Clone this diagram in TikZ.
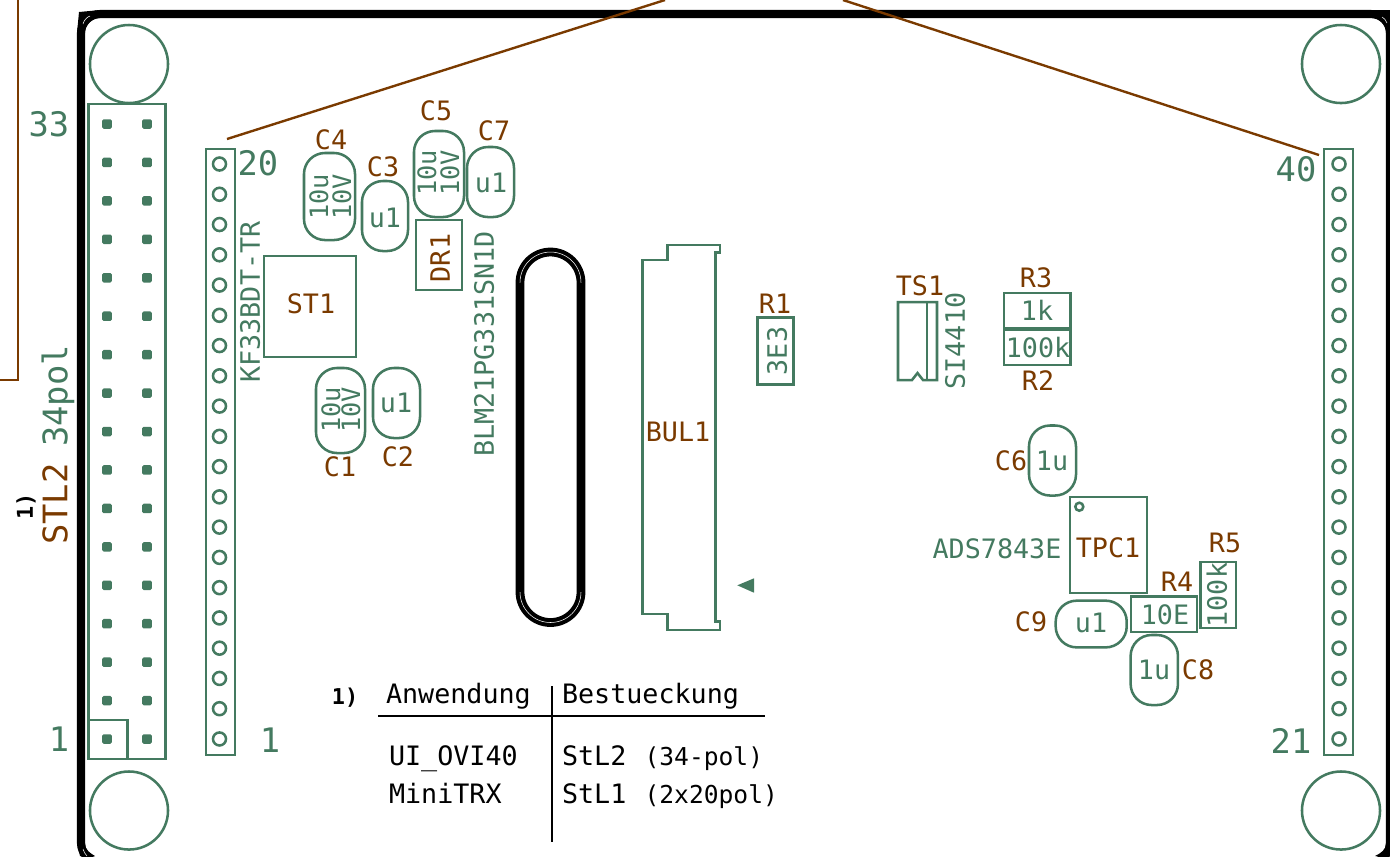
\documentclass[tikz,border=0pt]{standalone}
\usepackage{xcolor}
\usepackage{fontspec}
\setmonofont{DejaVu Sans Mono}
\definecolor{pcbgreen}{HTML}{447A60}
\definecolor{pcbbrown}{HTML}{7A3A00}
\begin{document}
\begin{tikzpicture}[
	x=0.01cm,y=-0.01cm,
	font=\ttfamily
]
\tikzset{
    txtbase/.style = {inner sep=0pt,outer sep=0pt,text depth=0pt,align=center},
    grntxt/.style = {txtbase,text=pcbgreen,text height=5.55pt,font=\ttfamily\fontsize{7.6}{8}\selectfont},
    brntxt/.style = {txtbase,text=pcbbrown,text height=5.55pt,font=\ttfamily\fontsize{7.6}{8}\selectfont},
    blktxt/.style = {txtbase,text=black,text height=5.55pt,font=\ttfamily\fontsize{7.6}{8}\selectfont},
    notetxt/.style = {blktxt,text height=4.5pt,font=\ttfamily\bfseries\fontsize{6.2}{7}\selectfont},
    smalltxt/.style = {grntxt,text height=5.25pt,font=\ttfamily\fontsize{7.2}{8}\selectfont},
    bigtxt/.style = {grntxt,text height=7pt,font=\ttfamily\fontsize{9.6}{10}\selectfont},
    bigbrn/.style = {brntxt,text height=7pt,font=\ttfamily\fontsize{9.6}{10}\selectfont},
    tabtxt/.style = {blktxt,anchor=west},
    part/.style = {draw=pcbgreen,line width=0.72pt},
    capbox/.style = {part,rectangle,rounded corners=0.21cm,inner sep=0pt,outer sep=0pt},
    partbox/.style = {part,rectangle,inner sep=0pt,outer sep=0pt},
    pad/.style = {rectangle,fill=pcbgreen,rounded corners=0.4pt,minimum size=0.095cm,inner sep=0pt},
    hole/.style = {circle,part,minimum size=0.13cm,inner sep=0pt},
    mount/.style = {circle,part,minimum size=0.78cm,inner sep=0pt},
    wire/.style = {draw=pcbbrown,line width=0.68pt},
    edgeline/.style = {draw=black,line width=2.3pt},
    seam/.style = {draw=white,line width=0.15pt},
    tabline/.style = {draw=black,line width=0.62pt}
}
\path[use as bounding box,clip] (0,0) rectangle (1390,856);

% board edge
\draw[edgeline,rounded corners=0.19cm] (81,14) rectangle (1390,862);
\fill[black] (100,10) -- (79,12) -- (77,33) -- (85,33) .. controls (85,25) and (92,18) .. (100,18) -- cycle;
\fill[black] (1372,10) -- (1390,10) -- (1390,33) -- (1386,33) .. controls (1386,25) and (1380,18) .. (1372,18) -- cycle;
\fill[black] (77,840) -- (80,856) -- (95,856) .. controls (90,853) and (85,850) .. (85,843) -- cycle;
\fill[black] (1390,843) -- (1390,856) -- (1375,856) .. controls (1381,853) and (1386,850) .. (1386,843) -- cycle;
\draw[seam] (83,24) .. controls (84,20) and (87,17) .. (90,16);
\draw[seam] (1382,17) .. controls (1384,18) and (1386,20) .. (1387,23);
\draw[seam] (83,849) .. controls (84,852) and (85,854) .. (87,856);

% wires
\coordinate (wireAa) at (18,0);
\coordinate (wireAb) at (18,380);
\coordinate (wireAc) at (0,380);
\coordinate (wireBa) at (227,139);
\coordinate (wireBb) at (665,0);
\coordinate (wireCa) at (843,0);
\coordinate (wireCb) at (1319,155);
\draw[wire] (wireAa) -- (wireAb) -- (wireAc);
\draw[wire] (wireBa) -- (wireBb);
\draw[wire] (wireCa) -- (wireCb);

% mounting holes
\node[mount] (mountTL) at (129,64) {};
\node[mount] (mountTR) at (1341,64) {};
\node[mount] (mountBL) at (129,810.5) {};
\node[mount] (mountBR) at (1341,810.5) {};

% STL2
\node[partbox,minimum width=0.77cm,minimum height=6.55cm] (stl2) at (127,431.5) {};
\node[partbox,minimum width=0.39cm,minimum height=0.39cm] (stl2pin) at (108,739.5) {};
\foreach \n in {0,...,16} {
    \node[pad] (padL\n) at (107,{124+38.44*\n}) {};
    \node[pad] (padR\n) at (147,{124+38.44*\n}) {};
}
\node[bigtxt] (lab33) at (49,124) {33};
\node[bigtxt] (lab1a) at (59,739) {1};
\node[bigbrn,rotate=90] (labSTL) at (55,504) {STL2};
\node[bigtxt,rotate=90] (labPol) at (55,396) {34pol};
\node[notetxt,rotate=90] (labNoteA) at (25,506) {1)};

% STL1 strips
\node[partbox,minimum width=0.29cm,minimum height=6.06cm] (stl1a) at (220.5,452) {};
\node[partbox,minimum width=0.29cm,minimum height=6.06cm] (stl1b) at (1338.5,452) {};
\foreach \n in {0,...,19} {
    \node[hole] (holeL\n) at (219.5,{164+30.26*\n}) {};
    \node[hole] (holeR\n) at (1339,{164+30.26*\n}) {};
}
\node[bigtxt] (lab20) at (258,163) {20};
\node[bigtxt] (lab1b) at (270,740) {1};
\node[bigtxt] (lab40) at (1296,169) {40};
\node[bigtxt] (lab21) at (1291,741) {21};

% supply
\node[partbox,minimum width=0.92cm,minimum height=1.01cm] (st1) at (310,306.5) {};
\node[brntxt] (labST1) at (311,304) {ST1};
\node[grntxt,rotate=90] (labKF) at (250,302) {KF33BDT-TR};
\node[capbox,minimum width=0.51cm,minimum height=0.87cm] (c4) at (329.5,196.5) {};
\node[smalltxt,rotate=90] (c4u) at (319,197) {10u};
\node[smalltxt,rotate=90] (c4v) at (342,197) {10V};
\node[brntxt] (labC4) at (331,140) {C4};
\node[capbox,minimum width=0.46cm,minimum height=0.70cm] (c3) at (385,216) {};
\node[grntxt] (c3u) at (385,218) {u1};
\node[brntxt] (labC3) at (383,167) {C3};
\node[capbox,minimum width=0.50cm,minimum height=0.86cm] (c5) at (439,174) {};
\node[smalltxt,rotate=90] (c5u) at (427,173) {10u};
\node[smalltxt,rotate=90] (c5v) at (450,173) {10V};
\node[brntxt] (labC5) at (436,111) {C5};
\node[capbox,minimum width=0.47cm,minimum height=0.70cm] (c7) at (490.5,182) {};
\node[grntxt] (c7u) at (491,183) {u1};
\node[brntxt] (labC7) at (494,131) {C7};
\node[partbox,minimum width=0.46cm,minimum height=0.70cm] (dr1) at (439,255) {};
\node[brntxt,rotate=90] (labDR1) at (440,258) {DR1};
\node[grntxt,rotate=90] (labBLM) at (484,344) {BLM21PG331SN1D};
\node[capbox,minimum width=0.49cm,minimum height=0.85cm] (c1) at (340.5,410.5) {};
\node[smalltxt,rotate=90] (c1u) at (331,410) {10u};
\node[smalltxt,rotate=90] (c1v) at (351,410) {10V};
\node[brntxt] (labC1) at (340,467) {C1};
\node[capbox,minimum width=0.47cm,minimum height=0.70cm] (c2) at (396.5,403) {};
\node[grntxt] (c2u) at (396,403) {u1};
\node[brntxt] (labC2) at (398,457) {C2};

% slot
\draw[edgeline,line width=2.5pt] (520,282.5) arc[start angle=180,end angle=360,x radius=30.5,y radius=30.5] -- (581,592) arc[start angle=0,end angle=180,x radius=30.5,y radius=30.5] -- cycle;
\draw[seam] (520,282.5) arc[start angle=180,end angle=360,x radius=30.5,y radius=30.5];
\draw[seam] (581,592) arc[start angle=0,end angle=180,x radius=30.5,y radius=30.5];

% BUL1
\draw[part] (642.3,260) -- (667.3,260) -- (667.3,245) -- (720,245) -- (720,252.7) -- (715.7,252.7) -- (715.7,621.7) -- (720,621.7) -- (720,630) -- (667.3,630) -- (667.3,614) -- (642.3,614) -- cycle;
\fill[pcbgreen] (737.3,585.3) -- (754,578.3) -- (754,592.7) -- cycle;
\node[brntxt] (labBUL) at (678,432) {BUL1};

% R1
\node[partbox,minimum width=0.355cm,minimum height=0.665cm] (r1) at (775.5,351) {};
\node[grntxt,rotate=90] (r1v) at (777,351) {3E3};
\node[brntxt] (labR1) at (775,304) {R1};

% TS1
\draw[part] (898,302) -- (937,302) -- (937,380) -- (923,380) -- (917.5,373) -- (912,380) -- (898,380) -- cycle;
\draw[part] (927,302) -- (927,380);
\node[brntxt] (labTS1) at (920,286) {TS1};
\node[grntxt,rotate=90] (labSI) at (955,341) {SI4410};

% R2 R3
\node[partbox,minimum width=0.667cm,minimum height=0.36cm] (r3) at (1037.3,311) {};
\node[partbox,minimum width=0.667cm,minimum height=0.36cm] (r2) at (1037.3,347) {};
\draw[part,line width=1.1pt] (r3.south west) -- (r3.south east);
\node[grntxt] (r3v) at (1037,311) {1k};
\node[grntxt] (r2v) at (1038,348) {100k};
\node[brntxt] (labR3) at (1036,278) {R3};
\node[brntxt] (labR2) at (1038,381) {R2};

% touch controller
\node[capbox,minimum width=0.47cm,minimum height=0.70cm] (c6) at (1052.5,460.5) {};
\node[grntxt] (c6v) at (1052,461) {1u};
\node[brntxt] (labC6) at (1011,461) {C6};
\node[partbox,minimum width=0.77cm,minimum height=0.96cm] (tpc1) at (1108.5,545) {};
\node[circle,part,minimum size=0.08cm,inner sep=0pt] (tpc1dot) at (1079.3,506.7) {};
\node[brntxt] (labTPC) at (1108,548) {TPC1};
\node[grntxt] (labADS) at (997,549) {ADS7843E};
\node[partbox,minimum width=0.353cm,minimum height=0.663cm] (r5) at (1218.3,595) {};
\node[grntxt,rotate=90] (r5v) at (1217,595) {100k};
\node[brntxt] (labR5) at (1225,543) {R5};
\node[partbox,minimum width=0.66cm,minimum height=0.353cm] (r4) at (1164,614.3) {};
\node[grntxt] (r4v) at (1165,615) {10E};
\node[brntxt] (labR4) at (1177,582) {R4};
\node[capbox,minimum width=0.71cm,minimum height=0.467cm] (c9) at (1091.2,624) {};
\node[grntxt] (c9v) at (1091,623) {u1};
\node[brntxt] (labC9) at (1031,622) {C9};
\node[capbox,minimum width=0.473cm,minimum height=0.70cm] (c8) at (1154.3,670) {};
\node[grntxt] (c8v) at (1154,670) {1u};
\node[brntxt] (labC8) at (1198,670) {C8};

% table
\coordinate (tabLa) at (378,716);
\coordinate (tabLb) at (765,716);
\coordinate (tabVa) at (552,686);
\coordinate (tabVb) at (552,842);
\draw[tabline] (tabLa) -- (tabLb);
\draw[tabline] (tabVa) -- (tabVb);
\node[notetxt] (labNoteB) at (345,697) {1)};
\node[tabtxt] (tabA) at (386,694) {Anwendung};
\node[tabtxt] (tabB) at (562,694) {Bestueckung};
\node[tabtxt] (tabC) at (389,756) {UI\_OVI40};
\node[tabtxt] (tabD) at (562,756) {StL2\hspace{0.6pt} {\fontsize{7}{8}\selectfont (34-pol)}};
\node[tabtxt] (tabE) at (389,794) {MiniTRX};
\node[tabtxt] (tabF) at (562,794) {StL1\hspace{0.6pt} {\fontsize{7}{8}\selectfont (2x20pol)}};
\end{tikzpicture}
\end{document}
